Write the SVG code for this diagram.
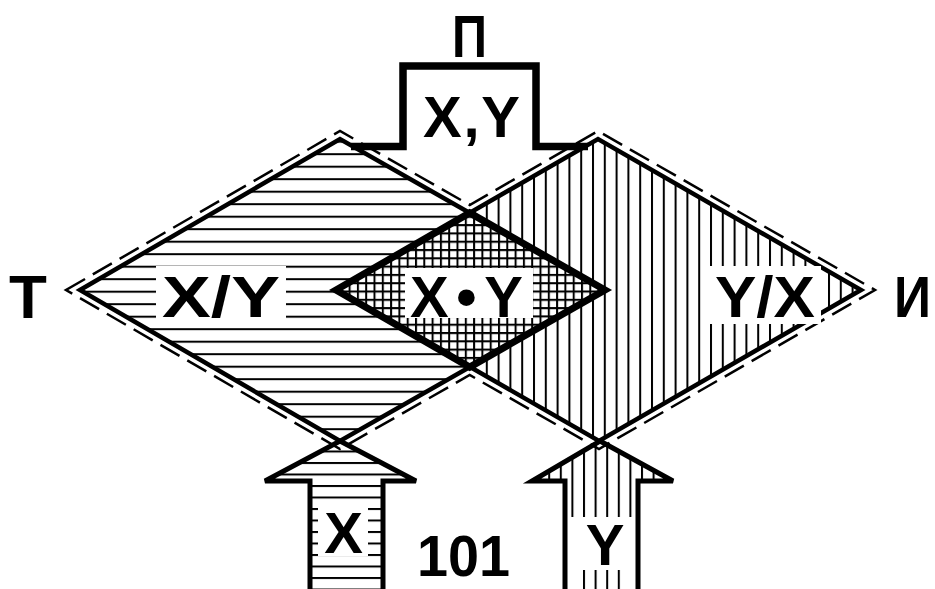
<svg xmlns="http://www.w3.org/2000/svg" width="935" height="589" viewBox="0 0 935 589">
<defs>
<pattern id="pH" patternUnits="userSpaceOnUse" width="20" height="12.5" y="3.2"><rect width="20" height="12.5" fill="#fff"/><path d="M0 1H20" stroke="#000" stroke-width="2"/></pattern>
<pattern id="pV" patternUnits="userSpaceOnUse" width="11.8" height="20" x="2"><rect width="11.8" height="20" fill="#fff"/><path d="M1 0V20" stroke="#000" stroke-width="2"/></pattern>
<pattern id="pG" patternUnits="userSpaceOnUse" width="8.3" height="8.3"><rect width="8.3" height="8.3" fill="#fff"/><path d="M1 0V8.3M0 1H8.3" stroke="#000" stroke-width="2"/></pattern>
<pattern id="pHa" patternUnits="userSpaceOnUse" width="20" height="11.5" y="2"><rect width="20" height="11.5" fill="#fff"/><path d="M0 1H20" stroke="#000" stroke-width="2"/></pattern>
<pattern id="pVa" patternUnits="userSpaceOnUse" width="11.6" height="20" x="3"><rect width="11.6" height="20" fill="#fff"/><path d="M1 0V20" stroke="#000" stroke-width="2"/></pattern>
</defs>
<style>
.t{font-family:"Liberation Sans",Arial,sans-serif;font-weight:bold;fill:#000}
.ol{fill:none;stroke:#000;stroke-width:4.5;stroke-linejoin:miter}
.thick{fill:none;stroke:#000;stroke-width:7;stroke-linejoin:miter}
.dash{fill:none;stroke:#000;stroke-width:2.5;stroke-dasharray:22 9}
.bg{fill:#fff}
.arr{stroke:#000;stroke-width:5;stroke-linejoin:miter}
</style>
<rect width="935" height="589" fill="#fff"/>

<g id="left-diamond">
<polygon points="80,290 340,139 605,290 340,441" fill="url(#pH)"/>
</g>
<g id="right-diamond">
<polygon points="336,290 598,139 861,290 599,441" fill="url(#pV)"/>
</g>
<g id="intersection">
<polygon points="336,290 469.7,212.9 605,290 469.7,367.1" fill="url(#pG)"/>
</g>

<g id="input-x">
<polygon class="arr" points="340,441 416,481 383,481 383,600 310,600 310,481 265,481" fill="url(#pHa)"/>
<rect class="bg" x="318" y="508" width="50" height="48"/>
<text class="t" x="343.5" y="553" font-size="58" text-anchor="middle">X</text>
</g>
<g id="input-y">
<polygon class="arr" points="600,441 673,481 638,481 638,600 565,600 565,481 532,481" fill="url(#pVa)"/>
<rect class="bg" x="568" y="517" width="67" height="53"/>
<rect class="bg" x="568" y="569" width="14" height="25"/>
<rect class="bg" x="623" y="569" width="12" height="25"/>
<text class="t" x="605" y="565" font-size="58" text-anchor="middle">Y</text>
</g>

<g id="connectors">
<polygon class="dash" points="66,290 340,131 469.7,205 598,131 875,290 599,449 469.7,375 340,449"/>
<polygon class="ol" points="80,290 340,139 605,290 340,441"/>
<polygon class="ol" points="336,290 598,139 861,290 599,441"/>
<polyline fill="none" stroke="#000" stroke-width="7.5" stroke-linejoin="miter" points="351,146.5 403,146.5 403,66 536,66 536,146.5 588,146.5"/>
</g>

<g id="label-xy-left">
<rect class="bg" x="156" y="266" width="130" height="58"/>
<text class="t" x="162" y="317" font-size="58" textLength="118" lengthAdjust="spacingAndGlyphs">X/Y</text>
</g>
<g id="label-xy-right">
<rect class="bg" x="709" y="266" width="112" height="58"/>
<text class="t" x="715" y="317" font-size="58" textLength="100" lengthAdjust="spacingAndGlyphs">Y/X</text>
</g>
<g id="label-product">
<rect class="bg" x="405" y="268" width="128" height="50"/>
<polygon class="thick" points="336,290 469.7,212.9 605,290 469.7,367.1"/>
<text class="t" x="410" y="317" font-size="58" textLength="113" lengthAdjust="spacing">X•Y</text>
</g>
<g id="output">
<text class="t" x="423" y="137" font-size="58" textLength="97" lengthAdjust="spacing">X,Y</text>
<text class="t" x="452" y="57" font-size="60" textLength="35" lengthAdjust="spacingAndGlyphs">П</text>
</g>
<g id="label-t">
<text class="t" x="9" y="318" font-size="62">Т</text>
</g>
<g id="label-i">
<text class="t" x="894" y="317" font-size="58" textLength="37" lengthAdjust="spacingAndGlyphs">И</text>
</g>
<g id="label-101">
<text class="t" x="417" y="576" font-size="58" textLength="93" lengthAdjust="spacingAndGlyphs">101</text>
</g>
</svg>
